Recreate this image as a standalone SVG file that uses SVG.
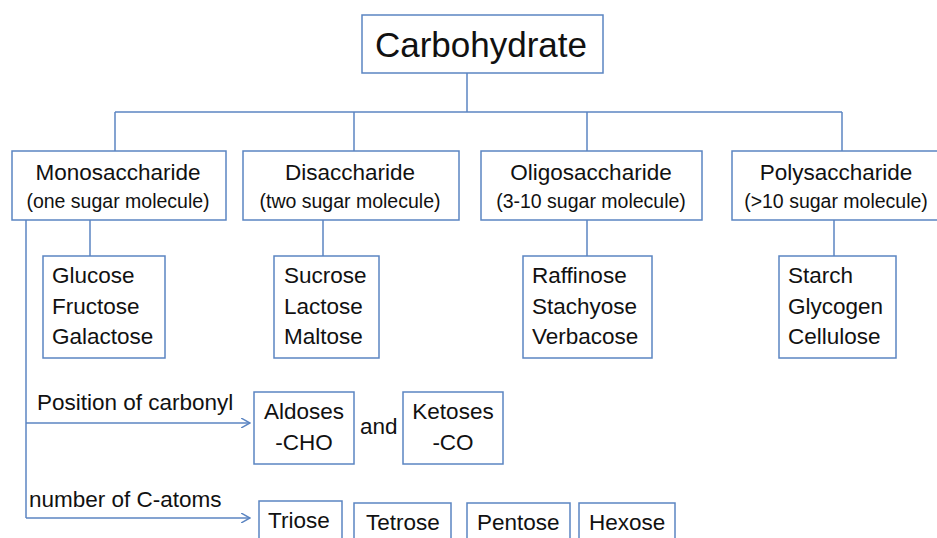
<svg xmlns="http://www.w3.org/2000/svg" width="937" height="538" viewBox="0 0 937 538">
<defs>
<marker id="arr" viewBox="0 0 10 10" refX="9" refY="5" markerWidth="10" markerHeight="10" markerUnits="userSpaceOnUse" orient="auto">
<path d="M0,0 L9,5 L0,10" fill="none" stroke="#5b85c2" stroke-width="1.5"/>
</marker>
</defs>
<style>
rect{fill:#fff;stroke:#5b85c2;stroke-width:1.5}
.c line,.c path{stroke:#5b85c2;stroke-width:1.5;fill:none}
text{font-family:"Liberation Sans",Arial,sans-serif;fill:#111}
.t1{font-size:35px}
.t2{font-size:22.5px;text-anchor:middle}
.t3{font-size:19.5px;text-anchor:middle}
.l{font-size:22.5px}
.m{font-size:22.5px;text-anchor:middle}
</style>
<rect width="937" height="538" style="fill:#fff;stroke:none"/>
<g class="c" id="connectors">
<line x1="467" y1="73" x2="467" y2="112"/>
<line x1="115" y1="112" x2="842" y2="112"/>
<line x1="115" y1="112" x2="115" y2="151"/>
<line x1="354" y1="112" x2="354" y2="151"/>
<line x1="587" y1="112" x2="587" y2="151"/>
<line x1="842" y1="112" x2="842" y2="151"/>
<line x1="90" y1="220" x2="90" y2="256"/>
<line x1="323" y1="220" x2="323" y2="256"/>
<line x1="587" y1="220" x2="587" y2="256"/>
<line x1="834" y1="220" x2="834" y2="256"/>
<line x1="26" y1="220" x2="26" y2="518"/>
<line x1="26" y1="423" x2="250" y2="423" marker-end="url(#arr)"/>
<line x1="26" y1="518" x2="250" y2="518" marker-end="url(#arr)"/>
</g>
<g id="carbohydrate">
<rect x="362" y="15" width="241" height="58"/>
<text class="t1" x="481" y="57" text-anchor="middle">Carbohydrate</text>
</g>
<g id="mono">
<rect x="12" y="151" width="214" height="69"/>
<text class="t2" x="118" y="180">Monosaccharide</text>
<text class="t3" x="118" y="208">(one sugar molecule)</text>
</g>
<g id="di">
<rect x="243" y="151" width="216" height="69"/>
<text class="t2" x="350" y="180">Disaccharide</text>
<text class="t3" x="350" y="208">(two sugar molecule)</text>
</g>
<g id="oligo">
<rect x="481" y="151" width="221" height="69"/>
<text class="t2" x="591" y="180">Oligosaccharide</text>
<text class="t3" x="591" y="208">(3-10 sugar molecule)</text>
</g>
<g id="poly">
<rect x="732" y="151" width="208" height="69"/>
<text class="t2" x="836" y="180">Polysaccharide</text>
<text class="t3" x="836" y="208">(&gt;10 sugar molecule)</text>
</g>
<g id="mono-ex">
<rect x="43" y="256" width="122" height="102"/>
<text class="l" x="52" y="283">Glucose</text>
<text class="l" x="52" y="314">Fructose</text>
<text class="l" x="52" y="344">Galactose</text>
</g>
<g id="di-ex">
<rect x="274" y="256" width="105" height="102"/>
<text class="l" x="284" y="283">Sucrose</text>
<text class="l" x="284" y="314">Lactose</text>
<text class="l" x="284" y="344">Maltose</text>
</g>
<g id="oligo-ex">
<rect x="523" y="256" width="129" height="102"/>
<text class="l" x="532" y="283">Raffinose</text>
<text class="l" x="532" y="314">Stachyose</text>
<text class="l" x="532" y="344">Verbacose</text>
</g>
<g id="poly-ex">
<rect x="779" y="256" width="117" height="102"/>
<text class="l" x="788" y="283">Starch</text>
<text class="l" x="788" y="314">Glycogen</text>
<text class="l" x="788" y="344">Cellulose</text>
</g>
<g id="label-carbonyl">
<text class="l" x="37" y="410">Position of carbonyl</text>
</g>
<g id="aldoses">
<rect x="254" y="392" width="100" height="72"/>
<text class="m" x="304" y="419">Aldoses</text>
<text class="m" x="304" y="450">-CHO</text>
</g>
<g id="and">
<text class="l" x="360" y="434">and</text>
</g>
<g id="ketoses">
<rect x="403" y="392" width="100" height="72"/>
<text class="m" x="453" y="419">Ketoses</text>
<text class="m" x="453" y="450">-CO</text>
</g>
<g id="label-catoms">
<text class="l" x="29" y="507">number of C-atoms</text>
</g>
<g id="triose">
<rect x="259" y="501" width="83" height="45"/>
<text class="l" x="268" y="528">Triose</text>
</g>
<g id="tetrose">
<rect x="354" y="503" width="97" height="45"/>
<text class="l" x="366" y="530">Tetrose</text>
</g>
<g id="pentose">
<rect x="467" y="503" width="103" height="45"/>
<text class="l" x="477" y="530">Pentose</text>
</g>
<g id="hexose">
<rect x="579" y="503" width="96" height="45"/>
<text class="l" x="589" y="530">Hexose</text>
</g>
</svg>
